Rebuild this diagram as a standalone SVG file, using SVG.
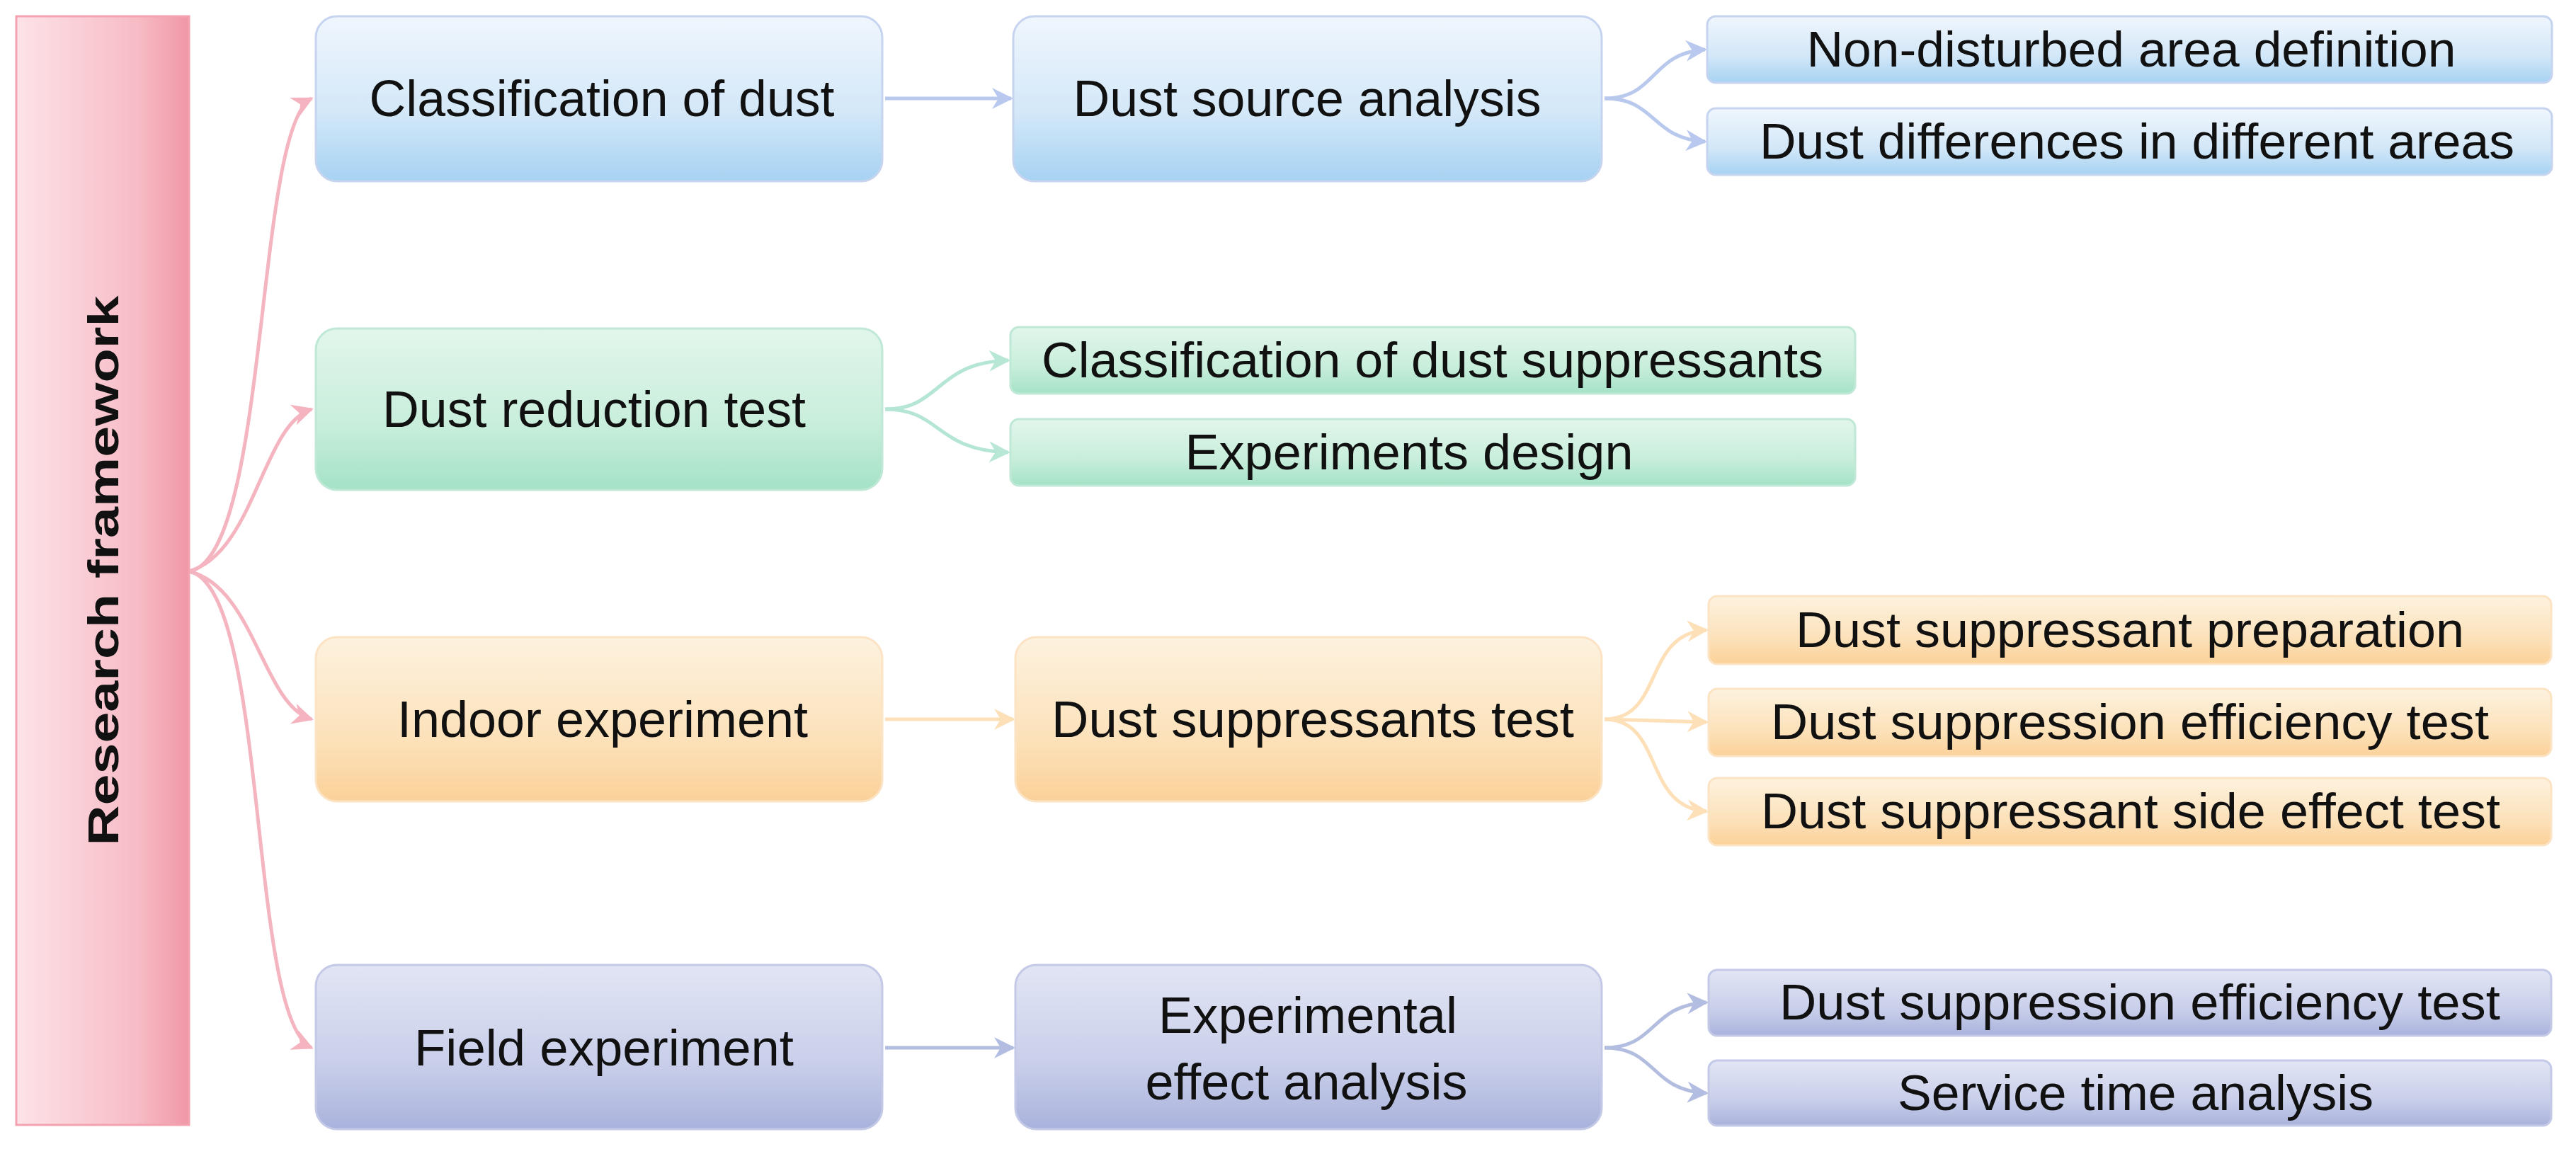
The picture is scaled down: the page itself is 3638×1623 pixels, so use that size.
<svg xmlns="http://www.w3.org/2000/svg" width="3638" height="1623" viewBox="0 0 3638 1623">
<defs>
<linearGradient id="gBlue" x1="0" y1="0" x2="0" y2="1"><stop offset="0" stop-color="#f0f6fd"/><stop offset="0.6" stop-color="#d2e7f8"/><stop offset="1" stop-color="#a6d2f2"/></linearGradient>
<linearGradient id="gGreen" x1="0" y1="0" x2="0" y2="1"><stop offset="0" stop-color="#e2f6ec"/><stop offset="0.6" stop-color="#c8eedb"/><stop offset="1" stop-color="#a4e2c6"/></linearGradient>
<linearGradient id="gOrange" x1="0" y1="0" x2="0" y2="1"><stop offset="0" stop-color="#fdf2df"/><stop offset="0.6" stop-color="#fce2bb"/><stop offset="1" stop-color="#fbd199"/></linearGradient>
<linearGradient id="gPurple" x1="0" y1="0" x2="0" y2="1"><stop offset="0" stop-color="#e1e5f4"/><stop offset="0.6" stop-color="#c9cfea"/><stop offset="1" stop-color="#a9b2dc"/></linearGradient>
<linearGradient id="gPink" x1="0" y1="0" x2="1" y2="0"><stop offset="0" stop-color="#fde3e8"/><stop offset="0.7" stop-color="#f7bcc6"/><stop offset="1" stop-color="#f097a6"/></linearGradient>
<marker id="aPink" viewBox="0 0 10 10" refX="9" refY="5" markerWidth="6" markerHeight="6" orient="auto" markerUnits="strokeWidth"><path d="M0,0L10,5L0,10L3,5z" fill="#f5b3bf"/></marker>
<marker id="aBlue" viewBox="0 0 10 10" refX="9" refY="5" markerWidth="6" markerHeight="6" orient="auto" markerUnits="strokeWidth"><path d="M0,0L10,5L0,10L3,5z" fill="#b9c8ee"/></marker>
<marker id="aGreen" viewBox="0 0 10 10" refX="9" refY="5" markerWidth="6" markerHeight="6" orient="auto" markerUnits="strokeWidth"><path d="M0,0L10,5L0,10L3,5z" fill="#b8e7d6"/></marker>
<marker id="aOrange" viewBox="0 0 10 10" refX="9" refY="5" markerWidth="6" markerHeight="6" orient="auto" markerUnits="strokeWidth"><path d="M0,0L10,5L0,10L3,5z" fill="#fde0b8"/></marker>
<marker id="aPurple" viewBox="0 0 10 10" refX="9" refY="5" markerWidth="6" markerHeight="6" orient="auto" markerUnits="strokeWidth"><path d="M0,0L10,5L0,10L3,5z" fill="#b3bde2"/></marker>
</defs>
<style>
text{font-family:"Liberation Sans",Arial,sans-serif;fill:#111;text-anchor:middle;dominant-baseline:central}
.m{font-size:72px}
.s{font-size:70px}
.b{stroke:#c6d4f0;stroke-width:3}
.g{stroke:#bfe8d6;stroke-width:3}
.o{stroke:#fbe3c4;stroke-width:3}
.p{stroke:#c3c9e6;stroke-width:3}
.c{fill:none;stroke-width:5}
</style>
<g id="connectors">
<path class="c" stroke="#f5b5c0" marker-end="url(#aPink)" d="M267,807 C380,790 360,180 440,139"/>
<path class="c" stroke="#f5b5c0" marker-end="url(#aPink)" d="M267,807 C360,780 370,600 440,578"/>
<path class="c" stroke="#f5b5c0" marker-end="url(#aPink)" d="M267,807 C360,830 370,995 440,1016"/>
<path class="c" stroke="#f5b5c0" marker-end="url(#aPink)" d="M267,807 C380,830 350,1440 440,1480"/>
<path class="c" stroke="#b9c9ee" marker-end="url(#aBlue)" d="M1250,139 L1428,139"/>
<path class="c" stroke="#b9c9ee" marker-end="url(#aBlue)" d="M2266,139 C2340,139 2330,75 2408,70"/>
<path class="c" stroke="#b9c9ee" marker-end="url(#aBlue)" d="M2266,139 C2340,139 2330,195 2408,200"/>
<path class="c" stroke="#b5e6d5" marker-end="url(#aGreen)" d="M1250,578 C1330,578 1320,512 1424,509"/>
<path class="c" stroke="#b5e6d5" marker-end="url(#aGreen)" d="M1250,578 C1330,578 1320,636 1424,639"/>
<path class="c" stroke="#fde0b8" marker-end="url(#aOrange)" d="M1250,1016 L1431,1016"/>
<path class="c" stroke="#fde0b8" marker-end="url(#aOrange)" d="M2266,1016 C2350,1016 2320,895 2410,890"/>
<path class="c" stroke="#fde0b8" marker-end="url(#aOrange)" d="M2266,1016 L2410,1020"/>
<path class="c" stroke="#fde0b8" marker-end="url(#aOrange)" d="M2266,1016 C2350,1016 2320,1140 2410,1146"/>
<path class="c" stroke="#b3bde0" marker-end="url(#aPurple)" d="M1250,1480 L1431,1480"/>
<path class="c" stroke="#b3bde0" marker-end="url(#aPurple)" d="M2266,1480 C2340,1480 2330,1420 2410,1416"/>
<path class="c" stroke="#b3bde0" marker-end="url(#aPurple)" d="M2266,1480 C2340,1480 2330,1540 2410,1544"/>
</g>
<g id="research-framework">
<rect x="23" y="23" width="244" height="1566" fill="url(#gPink)" stroke="#f3a3b0" stroke-width="3"/>
<text x="145" y="806" transform="rotate(-90 145 806)" style="font-size:62px;font-weight:bold" textLength="777" lengthAdjust="spacingAndGlyphs">Research framework</text>
</g>
<g id="classification-of-dust"><rect class="b" x="446" y="23" width="800" height="233" rx="30" fill="url(#gBlue)"/><text class="m" x="850" y="139" textLength="657" lengthAdjust="spacingAndGlyphs">Classification of dust</text></g>
<g id="dust-source-analysis"><rect class="b" x="1431" y="23" width="831" height="233" rx="30" fill="url(#gBlue)"/><text class="m" x="1846" y="139" textLength="661" lengthAdjust="spacingAndGlyphs">Dust source analysis</text></g>
<g id="non-disturbed"><rect class="b" x="2411" y="23" width="1193" height="94" rx="12" fill="url(#gBlue)"/><text class="s" x="3010" y="70" textLength="917" lengthAdjust="spacingAndGlyphs">Non-disturbed area definition</text></g>
<g id="dust-differences"><rect class="b" x="2411" y="153" width="1193" height="94" rx="12" fill="url(#gBlue)"/><text class="s" x="3018" y="200" textLength="1066" lengthAdjust="spacingAndGlyphs">Dust differences in different areas</text></g>
<g id="dust-reduction-test"><rect class="g" x="446" y="464" width="800" height="228" rx="30" fill="url(#gGreen)"/><text class="m" x="839" y="578" textLength="598" lengthAdjust="spacingAndGlyphs">Dust reduction test</text></g>
<g id="classification-suppressants"><rect class="g" x="1427" y="462" width="1193" height="94" rx="12" fill="url(#gGreen)"/><text class="s" x="2023" y="509" textLength="1104" lengthAdjust="spacingAndGlyphs">Classification of dust suppressants</text></g>
<g id="experiments-design"><rect class="g" x="1427" y="592" width="1193" height="94" rx="12" fill="url(#gGreen)"/><text class="s" x="1990" y="639" textLength="633" lengthAdjust="spacingAndGlyphs">Experiments design</text></g>
<g id="indoor-experiment"><rect class="o" x="446" y="900" width="800" height="232" rx="30" fill="url(#gOrange)"/><text class="m" x="851" y="1016" textLength="580" lengthAdjust="spacingAndGlyphs">Indoor experiment</text></g>
<g id="dust-suppressants-test"><rect class="o" x="1434" y="900" width="828" height="232" rx="30" fill="url(#gOrange)"/><text class="m" x="1854" y="1016" textLength="738" lengthAdjust="spacingAndGlyphs">Dust suppressants test</text></g>
<g id="preparation"><rect class="o" x="2413" y="842" width="1190" height="96" rx="12" fill="url(#gOrange)"/><text class="s" x="3008" y="890" textLength="944" lengthAdjust="spacingAndGlyphs">Dust suppressant preparation</text></g>
<g id="efficiency-indoor"><rect class="o" x="2413" y="973" width="1190" height="95" rx="12" fill="url(#gOrange)"/><text class="s" x="3008" y="1020" textLength="1014" lengthAdjust="spacingAndGlyphs">Dust suppression efficiency test</text></g>
<g id="side-effect"><rect class="o" x="2413" y="1099" width="1190" height="95" rx="12" fill="url(#gOrange)"/><text class="s" x="3009" y="1146" textLength="1044" lengthAdjust="spacingAndGlyphs">Dust suppressant side effect test</text></g>
<g id="field-experiment"><rect class="p" x="446" y="1363" width="800" height="232" rx="30" fill="url(#gPurple)"/><text class="m" x="853" y="1480" textLength="536" lengthAdjust="spacingAndGlyphs">Field experiment</text></g>
<g id="experimental-effect-analysis"><rect class="p" x="1434" y="1363" width="828" height="232" rx="30" fill="url(#gPurple)"/><text class="m" x="1847" y="1434" textLength="422" lengthAdjust="spacingAndGlyphs">Experimental</text><text class="m" x="1845" y="1528" textLength="455" lengthAdjust="spacingAndGlyphs">effect analysis</text></g>
<g id="efficiency-field"><rect class="p" x="2413" y="1370" width="1190" height="93" rx="12" fill="url(#gPurple)"/><text class="s" x="3022" y="1416" textLength="1018" lengthAdjust="spacingAndGlyphs">Dust suppression efficiency test</text></g>
<g id="service-time"><rect class="p" x="2413" y="1498" width="1190" height="92" rx="12" fill="url(#gPurple)"/><text class="s" x="3016" y="1544" textLength="672" lengthAdjust="spacingAndGlyphs">Service time analysis</text></g>
</svg>
